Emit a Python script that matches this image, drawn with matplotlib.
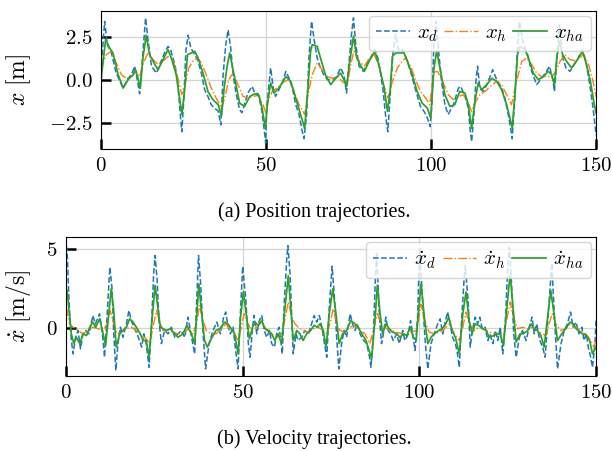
import matplotlib
import matplotlib.pyplot as plt
from matplotlib.ticker import FuncFormatter

matplotlib.use('Agg')

# position trajectories, (time, value)
pos_d = [(0, 0.5), (0.4, 1.6), (1.1, 3.4), (1.9, 2.05), (3.1, 1.6), (4.6, 0.4), (6.7, -0.47), (8.2, 0.1),
         (9.2, 0.3), (10.2, 0.8), (11.0, 0.0), (11.7, -0.8), (12.5, 1.1), (13.5, 3.6), (14.2, 2.4), (15.3, 0.8),
         (16.8, 0.4), (17.8, 0.9), (19.3, 1.6), (20.3, 1.95), (21.1, 1.75), (22.5, 0.8), (23.3, -0.27),
         (24.1, -2.2), (24.5, -3.0), (25.2, -0.66), (25.7, 1.67), (26.4, 2.6), (27.2, 1.86), (28.4, 1.47),
         (29.4, 1.1), (30.4, 0.4), (31.4, -0.56), (32.4, -0.95), (33.4, -1.43), (34.4, -1.63), (35.5, -1.8),
         (36.3, -2.6), (37.0, 0.3), (37.8, 2.05), (38.5, 2.9), (39.3, 1.86), (40.0, 0.3), (41.0, -0.85),
         (42.0, -1.72), (42.7, -1.9), (43.5, -1.4), (44.5, -0.75), (45.8, -0.37), (46.6, -0.76), (47.6, -0.8),
         (48.6, -1.63), (49.4, -2.8), (49.9, -3.66), (50.2, -1.63), (50.9, -0.27), (51.4, 0.7), (52.2, -0.47),
         (52.9, -0.95), (53.9, -0.56), (54.9, -0.17), (56.0, 0.5), (57.0, 0.1), (58.0, -0.47), (59.0, -1.43),
         (60.0, -2.0), (61.0, -3.0), (61.5, -3.4), (62.3, -2.0), (63.0, 1.28), (63.8, 3.4), (64.5, 2.44),
         (65.5, 1.28), (66.5, 0.7), (67.5, 0.3), (68.6, 0.02), (69.6, 0.02), (71.1, 0.1), (72.6, 0.7),
         (73.6, 0.3), (74.4, -0.76), (75.1, 0.9), (75.9, 2.64), (76.5, 3.6), (77.2, 2.05), (78.2, 0.8),
         (79.5, 0.5), (80.8, 1.0), (82.2, 1.47), (82.9, 1.76), (83.9, 1.28), (84.7, 0.4), (85.5, -0.66),
         (86.2, -2.0), (86.9, -3.0), (87.7, -0.66), (88.5, 1.67), (89.3, 2.64), (90.3, 1.67), (91.3, 1.76),
         (92.3, 1.37), (93.8, 0.5), (95.3, -0.56), (96.8, -1.53), (97.9, -1.82), (98.9, -2.2), (99.7, -2.7),
         (100.2, -1.63), (100.9, 2.25), (101.5, 3.4), (102.2, 1.86), (103.2, -0.08), (104.2, -1.43),
         (105.2, -2.0), (106.8, -1.43), (108.3, -0.47), (109.0, -0.37), (110.3, -0.95), (111.3, -1.63),
         (111.8, -2.8), (112.3, -3.57), (113.0, -2.0), (113.6, -0.08), (114.1, 0.8), (114.8, -0.47),
         (115.8, -0.66), (116.9, -0.27), (117.9, 0.2), (118.7, 0.6), (119.9, 0.02), (121.4, -0.47),
         (122.4, -1.05), (123.4, -2.0), (124.3, -3.0), (124.6, -3.4), (125.5, -0.66), (126.2, 1.86),
         (126.8, 3.4), (128.0, 2.05), (129.0, 1.67), (130.5, 0.5), (132.0, -0.27), (133.5, 0.1), (135.0, 0.5),
         (135.9, 0.8), (136.9, 0.02), (137.4, -0.66), (138.1, 1.08), (138.9, 3.2), (139.9, 1.28), (140.9, 0.7),
         (142.1, 0.5), (143.1, 0.8), (144.6, 1.28), (145.9, 1.76), (146.9, 1.1), (148.1, -0.27), (149.1, -1.63),
         (149.8, -2.8), (150, -3.2)]

pos_h = [(0, 0.6), (0.3, 0.8), (1.6, 1.47), (3.1, 1.67), (4.6, 1.0), (6.2, 0.3), (7.7, 0.1), (9.2, 0.2),
         (10.7, 0.5), (11.7, 0.2), (12.7, 0.9), (14.2, 1.57), (15.8, 1.18), (17.3, 0.9), (18.8, 1.1),
         (20.3, 1.37), (21.8, 1.18), (23.3, 0.1), (24.5, -0.85), (25.5, -0.17), (26.6, 0.7), (27.9, 1.1),
         (29.2, 1.28), (30.4, 1.0), (31.9, 0.3), (33.4, -0.47), (34.9, -1.05), (36.5, -1.63), (37.5, -1.05),
         (38.7, 0.02), (40.0, 0.4), (41.5, -0.27), (43.0, -0.95), (44.5, -1.05), (46.0, -0.95), (47.6, -0.9),
         (49.1, -1.43), (50.0, -1.95), (50.6, -1.24), (51.9, -0.66), (53.9, -0.37), (55.5, -0.08), (57.0, 0.02),
         (58.5, -0.66), (60.0, -1.43), (61.7, -2.0), (63.0, -0.56), (64.0, 0.3), (65.5, 1.0), (67.0, 0.6),
         (68.6, 0.2), (70.1, 0.1), (71.6, 0.2), (73.6, -0.17), (74.8, -0.08), (75.6, 0.8), (76.6, 1.67),
         (78.2, 1.1), (79.8, 0.8), (81.3, 1.28), (82.8, 1.47), (84.3, 0.8), (85.6, -0.27), (87.0, -1.05),
         (88.3, -0.08), (89.8, 0.7), (91.3, 1.1), (92.3, 1.28), (93.8, 0.8), (95.3, 0.02), (96.8, -0.66),
         (98.4, -1.05), (99.6, -1.43), (100.8, 0.45), (102.0, 0.5), (103.7, -0.17), (105.2, -0.85),
         (106.8, -1.14), (108.3, -0.95), (109.8, -0.85), (111.3, -1.34), (112.3, -1.82), (113.6, -1.24),
         (114.8, -0.85), (116.4, -0.66), (117.9, -0.37), (119.9, -0.08), (121.4, -0.27), (122.9, -0.85),
         (124.4, -1.43), (125.9, -0.08), (127.5, 1.08), (129.0, 1.28), (130.5, 0.9), (132.0, 0.4), (133.5, 0.2),
         (135.0, 0.2), (136.6, 0.2), (137.9, 0.5), (139.1, 1.08), (140.6, 1.47), (142.1, 1.18), (144.1, 1.1),
         (146.1, 1.47), (147.6, 1.0), (149.1, -0.08), (150, -0.95)]

pos_ha = [(0, 0.0), (0.3, 0.5), (1.4, 2.35), (2.6, 1.86), (3.6, 1.57), (5.2, 0.3), (6.7, -0.47), (8.2, 0.02),
          (9.7, 0.3), (10.4, 0.6), (11.2, 0.1), (11.9, -0.47), (12.7, 1.28), (13.7, 2.6), (14.7, 1.47),
          (16.3, 0.9), (17.3, 0.6), (18.8, 1.18), (20.3, 1.76), (21.3, 1.28), (22.8, 0.3), (23.8, -1.05),
          (24.5, -2.0), (25.4, -0.47), (26.2, 1.47), (27.4, 1.57), (28.4, 1.67), (29.4, 1.28), (30.9, 0.4),
          (32.4, -0.66), (33.9, -1.14), (35.5, -1.43), (36.5, -2.1), (37.3, -0.47), (38.3, 0.9), (39.0, 1.57),
          (39.7, 0.9), (41.0, -0.37), (42.0, -1.34), (43.5, -1.53), (45.1, -0.95), (46.6, -0.8), (47.9, -0.9),
          (48.8, -1.63), (49.8, -2.8), (50.4, -1.43), (51.4, -0.17), (52.4, -0.76), (53.9, -0.47), (54.9, -0.17),
          (56.0, 0.2), (57.5, -0.08), (59.0, -1.05), (60.5, -2.0), (61.7, -2.8), (62.7, -0.47), (63.5, 1.67),
          (64.0, 2.05), (65.5, 1.95), (66.5, 1.28), (68.0, 0.3), (69.6, -0.27), (71.1, 0.1), (72.6, 0.4),
          (73.6, 0.02), (74.4, -0.37), (75.4, 1.08), (76.5, 2.54), (77.5, 1.28), (78.8, 0.8), (79.8, 0.5),
          (81.3, 1.1), (83.0, 1.67), (84.3, 0.8), (85.8, -0.47), (86.8, -1.82), (87.6, -0.66), (88.3, 1.37),
          (89.3, 1.57), (90.8, 1.57), (91.8, 1.57), (92.8, 1.1), (94.3, 0.3), (95.8, -0.66), (97.3, -1.34),
          (98.9, -1.63), (99.9, -2.2), (100.9, 0.7), (101.7, 1.67), (102.7, 0.7), (104.2, -0.85), (105.7, -1.53),
          (107.2, -1.43), (108.7, -0.66), (110.3, -0.76), (111.3, -1.43), (112.3, -2.8), (113.3, -1.24),
          (114.3, -0.17), (115.3, -0.56), (116.9, -0.27), (118.4, 0.1), (119.9, -0.08), (121.4, -0.56),
          (122.9, -1.43), (123.9, -2.2), (124.6, -2.8), (125.5, -0.66), (126.2, 1.47), (127.0, 1.95),
          (128.5, 1.76), (129.5, 1.28), (131.0, 0.4), (132.5, 0.02), (134.0, 0.2), (135.5, 0.5), (136.6, 0.3),
          (137.4, -0.27), (138.1, 1.28), (138.9, 2.25), (139.9, 1.47), (141.1, 1.08), (142.6, 0.7), (144.1, 1.1),
          (145.9, 1.67), (147.1, 0.9), (148.3, -0.08), (149.3, -1.24), (150, -1.9)]

# velocity trajectories
vel_d = [(0, 5.2), (0.3, 5.0), (0.85, 1.7), (1.5, -0.8), (2.0, -1.65), (2.7, -0.6), (3.4, -0.17), (4.1, -1.33),
         (4.8, -0.38), (5.6, -0.17), (6.5, -0.38), (7.6, 0.78), (8.3, 0.25), (9.5, 0.89), (10.3, -0.38),
         (10.9, -1.86), (11.6, 0.68), (12.4, 3.84), (13.0, 2.57), (13.5, -0.38), (14.1, -2.7), (14.7, -1.0),
         (15.4, 0.04), (16.1, -0.6), (17.1, 0.25), (17.8, 1.1), (18.5, 0.46), (19.2, 0.04), (20.1, -0.38),
         (20.8, -0.8), (21.4, -1.22), (22.0, -0.38), (22.7, -1.0), (23.5, -2.5), (24.2, 0.25), (24.8, 3.4),
         (25.2, 4.58), (25.8, 3.0), (26.3, 0.46), (27.0, -1.0), (27.9, -0.17), (28.9, -0.38), (29.8, 0.04),
         (30.8, -0.6), (31.7, -0.38), (32.6, -0.17), (33.6, -0.6), (34.5, 0.68), (35.2, -0.17), (35.9, -1.0),
         (36.4, -1.65), (36.9, 1.3), (37.5, 4.58), (38.1, 2.8), (38.8, -0.38), (39.5, -2.6), (40.5, -1.0),
         (41.6, -0.17), (42.7, 0.36), (43.7, -0.38), (44.6, 0.68), (45.2, 1.0), (45.8, 0.15), (46.5, -0.38),
         (47.3, 0.04), (48.0, -1.43), (48.7, -2.6), (49.3, 0.68), (50.0, 3.9), (50.9, 1.73), (51.6, -1.0),
         (52.1, -1.86), (52.8, 0.04), (53.2, 0.78), (54.0, -0.38), (54.7, 0.46), (55.4, 0.78), (56.1, -0.17),
         (56.8, -0.6), (57.6, -0.17), (58.2, -1.0), (59.0, -1.22), (59.6, -0.38), (60.3, 0.04), (60.8, -0.8),
         (61.2, -1.65), (61.8, 1.73), (62.5, 4.47), (62.8, 5.2), (63.4, 3.42), (63.9, 0.68), (64.3, -1.65),
         (65.1, -0.38), (65.7, -0.8), (66.7, -0.6), (67.6, -0.17), (68.6, -0.38), (69.5, 0.25), (70.2, 0.78),
         (70.95, 0.36), (71.7, 0.78), (72.4, 0.04), (73.0, -0.8), (73.8, -1.86), (74.5, 1.3), (75.3, 3.9),
         (75.9, 2.15), (76.6, -0.6), (77.2, -2.6), (78.0, -1.0), (78.7, -0.17), (79.4, -0.6), (80.4, 0.89),
         (81.1, 0.25), (81.8, -0.17), (82.4, 0.25), (83.2, -0.38), (84.2, -0.8), (85.1, -1.0), (85.9, -1.86),
         (86.3, -2.5), (87.0, -0.38), (87.5, 2.78), (87.9, 4.8), (88.7, 0.68), (89.3, -1.0), (90.0, -0.17),
         (90.5, 0.68), (91.2, -0.17), (91.9, -0.38), (92.6, -0.8), (93.6, -0.38), (94.3, -1.0), (95.3, -0.17),
         (95.9, -0.8), (96.9, -0.38), (97.5, 0.46), (98.1, -0.38), (98.8, -1.43), (99.5, 0.68), (100.1, 5.1),
         (100.9, 1.73), (101.7, -1.0), (102.4, -2.6), (103.3, -1.0), (104.2, -0.38), (105.2, 0.25),
         (105.9, 0.57), (106.6, -0.38), (107.4, 0.46), (108.0, 1.0), (108.7, 0.25), (109.4, -0.6), (110.2, -1.0),
         (110.8, -1.65), (111.3, -2.5), (112.0, 0.68), (112.7, 3.2), (113.0, 3.95), (113.8, 1.73),
         (114.4, -1.22), (115.0, -0.17), (115.8, 0.68), (116.5, 0.25), (117.1, 0.68), (117.9, -0.17),
         (118.6, 0.04), (119.4, -0.8), (120.0, -0.38), (120.8, -1.0), (121.5, -0.17), (122.2, -0.8),
         (122.9, 0.04), (123.6, -1.65), (124.4, 0.68), (125.0, 3.84), (125.5, 5.1), (126.1, 2.78),
         (126.7, -0.38), (127.4, -1.86), (128.3, -0.6), (129.2, -0.17), (130.2, -0.8), (131.1, 0.04),
         (131.9, 0.68), (132.5, -0.38), (133.2, 0.25), (134.1, -0.8), (134.9, -1.22), (135.6, -1.86),
         (136.4, 0.68), (137.5, 4.1), (137.9, 2.15), (138.5, -0.38), (139.1, -2.6), (140.1, -1.0),
         (141.0, -0.17), (141.9, 0.25), (142.8, 1.0), (143.5, 0.04), (144.3, 0.36), (145.2, -0.38), (146.0, 0.04),
         (146.6, -0.8), (147.3, -0.38), (147.8, -1.22), (148.5, -1.86), (149.0, -2.5), (149.7, -1.0), (150, 0.46)]

vel_h = [(0, 1.3), (0.3, 1.1), (1.0, 0.25), (2.0, 0.04), (3.4, -0.17), (4.8, -0.38), (6.2, -0.17), (7.6, 0.04),
         (9.1, -0.06), (10.5, -0.17), (11.6, 0.25), (12.5, 1.1), (13.5, 0.25), (14.4, -0.38), (15.7, -0.27),
         (17.1, -0.06), (18.5, 0.04), (19.9, -0.17), (21.3, -0.49), (22.7, -0.7), (23.7, -1.0), (24.6, 0.04),
         (25.6, 1.1), (26.5, 0.36), (27.5, -0.17), (28.9, -0.17), (30.3, -0.27), (31.7, -0.38), (33.1, -0.38),
         (34.5, -0.06), (35.9, -0.38), (36.9, 0.25), (37.8, 1.41), (38.8, 0.46), (39.7, -0.17), (41.1, -0.38),
         (42.5, -0.38), (44.0, -0.06), (45.2, 0.25), (46.3, -0.06), (47.7, -0.38), (48.7, -0.8), (49.6, 0.04),
         (50.4, 0.89), (51.3, 0.36), (52.5, -0.17), (53.9, 0.04), (55.4, 0.36), (56.8, -0.17), (58.2, -0.38),
         (59.6, -0.6), (61.0, -0.38), (61.9, 0.46), (62.9, 1.62), (63.9, 0.68), (64.8, 0.25), (65.7, 0.04),
         (67.1, -0.17), (68.6, -0.27), (70.0, -0.06), (71.4, 0.04), (72.8, -0.17), (73.9, -0.38), (74.9, 0.46),
         (75.6, 1.2), (76.6, 0.25), (77.5, -0.17), (78.9, -0.27), (80.4, 0.04), (81.8, 0.15), (83.2, -0.17),
         (84.6, -0.38), (86.0, -1.0), (87.0, -0.17), (88.1, 0.89), (89.3, 0.25), (90.8, -0.06), (92.2, -0.17),
         (93.6, -0.27), (95.0, -0.38), (96.4, -0.38), (97.8, -0.27), (99.1, -0.17), (99.7, 0.4), (100.5, 1.5),
         (101.4, 0.46), (102.8, -0.27), (104.2, -0.38), (105.7, -0.27), (107.1, -0.06), (108.5, 0.25),
         (109.9, -0.38), (111.3, -0.8), (112.3, 0.04), (113.2, 1.0), (114.1, 0.25), (115.5, -0.17), (116.9, 0.04),
         (118.4, -0.06), (119.8, -0.27), (121.2, -0.38), (122.6, -0.38), (123.8, -0.6), (124.7, 0.46),
         (125.7, 1.62), (126.6, 0.68), (127.8, -0.06), (129.2, 0.04), (130.7, -0.06), (132.1, 0.04),
         (133.4, -0.17), (134.7, -0.38), (135.8, -0.49), (136.7, 0.25), (137.6, 0.89), (138.6, 0.25),
         (140.0, -0.17), (141.4, -0.06), (142.8, 0.25), (144.3, 0.04), (145.7, -0.17), (147.1, -0.38),
         (148.5, -0.8), (149.4, -1.22), (150, -0.8)]

vel_ha = [(0, 2.5), (0.3, 2.36), (0.85, 1.1), (1.5, -0.38), (2.2, -1.0), (2.9, -0.6), (3.9, -1.0), (4.8, -0.38),
          (5.8, -0.49), (6.7, 0.04), (7.6, 0.36), (8.4, 0.04), (9.5, 0.57), (10.5, -0.38), (11.2, -1.12),
          (12.2, 1.1), (12.8, 2.47), (13.5, 1.1), (14.2, -1.22), (15.2, -0.38), (16.1, -0.17), (17.1, 0.04),
          (18.0, 0.57), (19.0, 0.36), (19.9, 0.04), (21.0, -0.38), (21.8, -0.8), (22.7, -0.8), (23.5, -1.86),
          (24.4, 0.68), (25.2, 2.68), (26.0, 1.3), (26.7, 0.04), (27.5, -0.06), (28.4, -0.17), (29.5, -0.06),
          (30.8, -0.38), (31.7, -0.6), (33.1, -0.38), (34.2, 0.15), (35.5, -0.38), (36.4, -1.0), (37.1, 1.1),
          (37.6, 2.78), (38.3, 1.1), (39.2, -0.8), (40.0, -1.22), (41.1, -0.7), (42.4, -0.17), (43.5, -0.06),
          (44.9, 0.36), (45.8, 0.25), (46.8, -0.06), (47.7, -0.38), (48.7, -1.65), (49.4, 0.68), (50.2, 2.3),
          (51.1, 0.68), (51.9, -0.7), (52.8, 0.04), (53.5, 0.36), (54.4, 0.15), (55.4, 0.46), (56.3, -0.06),
          (57.3, -0.17), (58.2, -0.38), (59.1, -0.8), (60.0, -0.38), (61.0, -1.0), (61.9, 1.1), (62.9, 3.3),
          (63.6, 1.3), (64.3, -0.8), (65.3, -0.17), (66.2, -0.38), (67.1, -0.8), (68.1, -0.38), (69.2, -0.17),
          (70.2, 0.15), (71.1, 0.04), (71.9, 0.25), (72.8, -0.17), (73.6, -1.22), (74.5, 0.89), (75.5, 2.47),
          (76.4, 0.89), (77.3, -1.0), (78.3, -0.38), (79.4, -0.17), (80.6, 0.46), (81.8, 0.25), (82.7, 0.04),
          (83.7, -0.38), (84.9, -0.8), (85.9, -1.54), (86.5, -1.96), (87.5, 0.68), (88.1, 2.7), (88.9, 0.89),
          (89.6, -0.38), (90.5, 0.25), (91.5, -0.06), (92.4, -0.27), (93.6, -0.38), (94.5, -0.6), (95.5, -0.38),
          (96.4, -0.49), (97.4, 0.04), (98.3, -0.6), (99.1, -0.8), (99.7, 0.89), (100.5, 2.8), (101.4, 0.68),
          (102.4, -1.0), (103.3, -0.6), (104.2, -0.38), (105.5, -0.17), (106.4, -0.06), (107.5, 0.25),
          (108.3, 0.68), (109.3, -0.17), (110.2, -0.6), (111.3, -1.65), (112.3, 0.89), (113.2, 2.26),
          (114.1, 0.46), (114.9, -0.38), (115.8, 0.25), (116.8, 0.15), (117.9, -0.06), (118.9, -0.17),
          (119.8, -0.6), (121.0, -0.49), (122.0, -0.38), (122.9, -0.38), (123.8, -1.12), (124.7, 1.1),
          (125.7, 3.42), (126.5, 1.3), (127.4, -0.9), (128.5, -0.38), (129.4, -0.38), (130.7, -0.17),
          (131.6, 0.25), (132.5, -0.06), (133.4, -0.17), (134.4, -0.49), (135.3, -1.22), (136.3, 0.68),
          (137.2, 2.36), (138.1, 0.89), (139.1, -0.8), (140.3, -0.38), (141.4, -0.06), (142.6, 0.36),
          (143.5, 0.25), (144.4, -0.06), (145.4, -0.27), (146.3, -0.38), (147.3, -0.49), (148.2, -0.8),
          (149.0, -1.65), (150, -1.22)]

plt.rcParams['mathtext.fontset'] = 'cm'
plt.rcParams['font.family'] = 'serif'
plt.rcParams['font.serif'] = ['Liberation Serif', 'DejaVu Serif']

fig = plt.figure(figsize=(6.13, 4.51), dpi=100)
ax1 = fig.add_axes([0.1648, 0.6696, 0.8075, 0.306])
ax2 = fig.add_axes([0.1077, 0.1663, 0.8646, 0.3082])


def draw(ax, d, h, ha, labels):
    ax.plot(*zip(*d), '--', color='C0', lw=1.1, label=labels[0])
    ax.plot(*zip(*h), '-.', color='C1', lw=1.0, label=labels[1])
    ax.plot(*zip(*ha), '-', color='C2', lw=1.25, label=labels[2])
    ax.set_xlim(0, 150)
    ax.set_xticks([0, 50, 100, 150])
    ax.grid(True, color='#d3d3d3', lw=0.9)
    ax.set_axisbelow(True)
    ax.tick_params(direction='in', length=7, width=1.8, labelsize=15, pad=6)
    ax.xaxis.set_major_formatter(FuncFormatter(lambda v, p: '${:.0f}$'.format(v)))
    ax.legend(loc='upper right', ncol=3, fontsize=15, handlelength=1.6, handletextpad=0.35,
              columnspacing=0.3, borderaxespad=0.25, borderpad=0.35, framealpha=0.8)


draw(ax1, pos_d, pos_h, pos_ha, [r'$x_d$', r'$x_h$', r'$x_{ha}$'])
ax1.set_ylim(-4, 4)
ax1.set_yticks([-2.5, 0, 2.5])
ax1.yaxis.set_major_formatter(FuncFormatter(lambda v, p: '${:.1f}$'.format(v)))
ax1.set_ylabel(r'$x\ [\mathrm{m}]$', fontsize=17)
ax1.yaxis.set_label_coords(-0.137, 0.5)

draw(ax2, vel_d, vel_h, vel_ha, [r'$\dot{x}_d$', r'$\dot{x}_h$', r'$\dot{x}_{ha}$'])
ax2.set_ylim(-3.05, 5.75)
ax2.set_yticks([0, 5])
ax2.yaxis.set_major_formatter(FuncFormatter(lambda v, p: '${:.0f}$'.format(v)))
ax2.set_ylabel(r'$\dot{x}\ [\mathrm{m/s}]$', fontsize=17)
ax2.yaxis.set_label_coords(-0.062, 0.5)

fig.text(0.512, 0.530, '(a) Position trajectories.', ha='center', va='center', fontsize=14.5)
fig.text(0.512, 0.027, '(b) Velocity trajectories.', ha='center', va='center', fontsize=14.5)

fig.savefig('out.png', dpi=100)
